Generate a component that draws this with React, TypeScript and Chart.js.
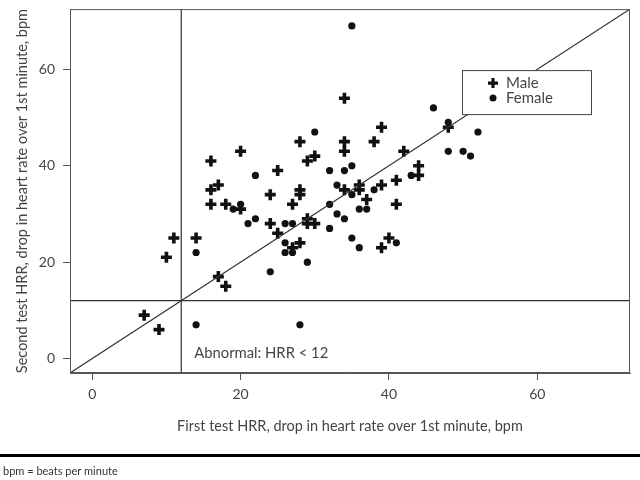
import React, { useEffect, useRef } from "react";
import { Chart, registerables } from "chart.js";

Chart.register(...registerables);

// Male (crosses): [first test HRR, second test HRR]
const malePoints: number[][] = [
  [7, 9], [9, 6], [10, 21], [11, 25], [14, 25], [17, 17], [18, 15],
  [16, 41], [16, 35], [17, 36], [16, 32], [18, 32], [20, 31], [20, 43],
  [24, 34], [24, 28], [25, 39], [25, 26], [27, 32], [27, 23], [28, 24],
  [28, 45], [28, 35], [28, 34], [29, 41], [29, 29], [29, 28], [30, 42],
  [30, 28], [34, 54], [34, 45], [34, 43], [34, 35], [36, 36], [36, 35],
  [37, 33], [38, 45], [39, 48], [39, 36], [39, 23], [40, 25], [41, 37],
  [41, 32], [42, 43], [44, 40], [44, 38], [48, 48],
];

// Female (dots)
const femalePoints: number[][] = [
  [14, 22], [14, 7], [19, 31], [20, 32], [21, 28], [22, 29], [22, 38],
  [24, 18], [26, 28], [27, 28], [26, 24], [26, 22], [27, 22], [28, 7],
  [29, 20], [30, 47], [32, 39], [32, 32], [32, 27], [33, 36], [33, 30],
  [34, 39], [34, 29], [35, 40], [35, 34], [35, 25], [35, 69], [36, 31],
  [36, 23], [37, 31], [38, 35], [41, 24], [43, 38], [46, 52], [48, 49],
  [48, 43], [50, 43], [51, 42], [52, 47],
];

const tickValues = [0, 20, 40, 60];
const axisMin = -3;
const axisMax = 72.5;
const cutoff = 12;
const seriesNames = ["Male", "Female"];
const xTitle = "First test HRR, drop in heart rate over 1st minute, bpm";
const yTitle = "Second test HRR, drop in heart rate over 1st minute, bpm";
const annotationText = "Abnormal: HRR < 12";
const footnote = "bpm = beats per minute";

const FONT = "Lato, 'Open Sans', sans-serif";
const TEXT = "#444";
const LINE = "#333";

const toXY = (arr: number[][]) => arr.map(([x, y]) => ({ x, y }));

const decorPlugin = {
  id: "decor",
  afterDatasetsDraw(chart: any) {
    const { ctx, chartArea: a, scales } = chart;
    const xs = scales.x;
    const ys = scales.y;
    ctx.save();
    // frame
    ctx.strokeStyle = "#555";
    ctx.lineWidth = 1;
    ctx.strokeRect(a.left + 0.5, a.top + 0.5, a.width - 1, a.height - 1);

    // annotation
    ctx.fillStyle = TEXT;
    ctx.font = `14.8px ${FONT}`;
    ctx.textBaseline = "middle";
    ctx.textAlign = "left";
    ctx.fillText(annotationText, xs.getPixelForValue(cutoff) + 13, ys.getPixelForValue(1.2));

    // legend box
    const lw = 129;
    const lh = 44;
    const lx = a.right - 39 - lw;
    const ly = a.top + 61;
    ctx.fillStyle = "#fff";
    ctx.fillRect(lx, ly, lw, lh);
    ctx.strokeStyle = "#444";
    ctx.lineWidth = 1;
    ctx.strokeRect(lx + 0.5, ly + 0.5, lw, lh);
    const mx = lx + 31;
    const y1 = ly + 13;
    const y2 = ly + 28;
    ctx.strokeStyle = "#111";
    ctx.lineWidth = 3.2;
    ctx.beginPath();
    ctx.moveTo(mx - 5, y1);
    ctx.lineTo(mx + 5, y1);
    ctx.moveTo(mx, y1 - 5);
    ctx.lineTo(mx, y1 + 5);
    ctx.stroke();
    ctx.fillStyle = "#111";
    ctx.beginPath();
    ctx.arc(mx, y2, 3.5, 0, Math.PI * 2);
    ctx.fill();
    ctx.fillStyle = TEXT;
    ctx.font = `15px ${FONT}`;
    ctx.fillText(seriesNames[0], mx + 13, y1);
    ctx.fillText(seriesNames[1], mx + 13, y2);

    // footer
    ctx.fillStyle = "#000";
    ctx.fillRect(0, 454, chart.width, 3);
    ctx.fillStyle = "#333";
    ctx.font = `11px ${FONT}`;
    ctx.textBaseline = "middle";
    ctx.fillText(footnote, 3, 471);
    ctx.restore();
  },
};

export default function App() {
  const ref = useRef<HTMLCanvasElement>(null);
  useEffect(() => {
    if (!ref.current) return;
    const chart = new Chart(ref.current, {
      type: "scatter",
      data: {
        datasets: [
          {
            label: "diag",
            data: [{ x: axisMin, y: axisMin }, { x: axisMax, y: axisMax }],
            showLine: true,
            borderColor: LINE,
            borderWidth: 1.2,
            pointRadius: 0,
          },
          {
            label: "hcut",
            data: [{ x: axisMin, y: cutoff }, { x: axisMax, y: cutoff }],
            showLine: true,
            borderColor: LINE,
            borderWidth: 1.2,
            pointRadius: 0,
          },
          {
            label: "vcut",
            data: [{ x: cutoff, y: axisMin }, { x: cutoff, y: axisMax }],
            showLine: true,
            borderColor: LINE,
            borderWidth: 1.2,
            pointRadius: 0,
          },
          {
            label: seriesNames[0],
            data: toXY(malePoints),
            pointStyle: "cross",
            pointRadius: 5.5,
            borderWidth: 3.6,
            borderColor: "#111",
            backgroundColor: "#111",
          },
          {
            label: seriesNames[1],
            data: toXY(femalePoints),
            pointStyle: "circle",
            pointRadius: 3.6,
            borderWidth: 0,
            backgroundColor: "#111",
          },
        ],
      },
      options: {
        responsive: false,
        animation: false,
        layout: { padding: { left: 14, right: 10, top: 8, bottom: 45 } },
        plugins: { legend: { display: false }, tooltip: { enabled: false } },
        scales: {
          x: {
            type: "linear",
            min: axisMin,
            max: axisMax,
            afterBuildTicks: (s: any) => {
              s.ticks = tickValues.map((v) => ({ value: v }));
            },
            afterFit: (s: any) => {
              s.height = 62;
              s.paddingLeft = 0;
              s.paddingRight = 0;
            },
            grid: { drawOnChartArea: false, drawTicks: true, tickLength: 7, color: "#555" },
            border: { display: true, color: "#555" },
            ticks: { color: TEXT, font: { family: FONT, size: 14 }, padding: 6 },
            title: { display: true, text: xTitle, color: TEXT, font: { family: FONT, size: 14.5 }, padding: 0 },
          },
          y: {
            type: "linear",
            min: axisMin,
            max: axisMax,
            afterBuildTicks: (s: any) => {
              s.ticks = tickValues.map((v) => ({ value: v }));
            },
            afterFit: (s: any) => {
              s.width = 56;
              s.paddingTop = 0;
              s.paddingBottom = 0;
            },
            grid: { drawOnChartArea: false, drawTicks: true, tickLength: 7, color: "#555" },
            border: { display: true, color: "#555" },
            ticks: { color: TEXT, font: { family: FONT, size: 14 }, padding: 8 },
            title: { display: true, text: yTitle, color: TEXT, font: { family: FONT, size: 14.5 }, padding: 0 },
          },
        },
      },
      plugins: [decorPlugin],
    });
    return () => chart.destroy();
  }, []);
  return (
    <div style={{ position: "fixed", left: 0, top: 0, width: 640, height: 480, background: "#fff" }}>
      <canvas ref={ref} width={640} height={480} style={{ display: "block" }} />
    </div>
  );
}
